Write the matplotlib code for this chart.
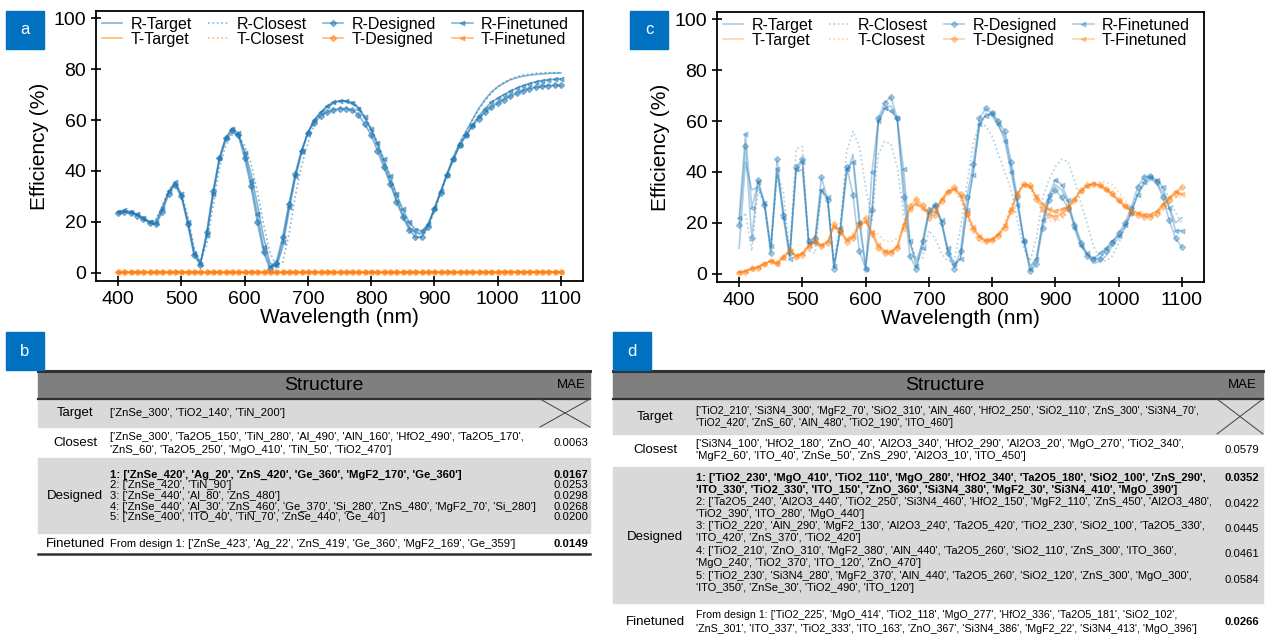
import matplotlib
matplotlib.use('Agg')
import matplotlib.pyplot as plt
from matplotlib.patches import Rectangle
import numpy as np

plt.rcParams['font.family'] = ['Liberation Sans', 'DejaVu Sans']

# ---------------- spectra (10 nm grid) ----------------
wl = np.arange(400, 1101, 10)

# panel a
Ra_target = [23.8, 24, 24, 23, 21.5, 20, 20.5, 26, 32, 35, 30,
             21, 9, 4, 14, 30, 44, 52, 55, 54, 48,
             39, 27, 14, 4, 2, 10, 24, 37, 47, 55,
             60, 63, 65, 66.5, 67.5, 67.5, 67, 65, 61, 56,
             50, 43, 36, 29, 23, 18, 15.5, 15.5, 19, 25,
             32, 39, 45.5, 51, 55.5, 60, 64.5, 68, 71, 73,
             74.5, 75.8, 76.6, 77.2, 77.6, 77.9, 78.1, 78.3, 78.4, 78.5]
Ra_closest = [23.5, 23.5, 23.5, 22.5, 21, 20, 21, 26.5, 32.5, 35.5, 31,
              22.5, 10, 4.5, 11, 26, 41, 50, 54, 54, 50,
              43, 32, 19, 8, 3, 4, 15, 30, 42, 51,
              58, 62, 65, 66.5, 67.5, 67.5, 67, 65, 61.5, 57,
              51, 44.5, 37.5, 30.5, 24, 19, 16, 15, 18, 24,
              31, 38.5, 45, 51, 55.5, 60, 64, 67.5, 70.5, 73,
              74.8, 76, 77, 77.6, 78, 78.3, 78.5, 78.6, 78.6, 78.6]
Ra_designed = [23.5, 24, 23.5, 22.5, 21, 19.5, 19, 24, 31, 34.5, 30,
               19, 7, 3, 16, 32, 45, 53, 56, 54, 45,
               34, 20, 8, 1.5, 4, 14, 27, 39, 48, 55,
               59, 61.5, 63, 64, 64.5, 64.5, 64, 62, 58.5, 54,
               48, 41.5, 35, 28, 22, 17, 14, 14, 18, 25,
               31.5, 38.5, 44.5, 50, 54, 57.5, 60.5, 63, 65, 66.5,
               68, 69.3, 70.5, 71.5, 72.3, 72.8, 73.2, 73.5, 73.6, 73.6]
Ra_finetuned = [24, 24.5, 24, 23, 21.5, 20, 19.5, 25, 32, 35.5, 31,
                20, 7.5, 3.5, 15, 31, 45, 53, 56.5, 55, 47,
                36, 23, 10, 2.5, 3, 12, 26, 38, 48, 55,
                60, 63, 65.5, 67, 67.5, 67.5, 66.5, 64.5, 61, 56.5,
                51, 44.5, 38, 31, 25, 20, 17, 16.5, 19, 25.5,
                32, 38.5, 44.5, 50, 54, 58, 61.5, 64.5, 67, 68.5,
                70, 71.2, 72.5, 73.5, 74.3, 75, 75.5, 75.8, 76, 76.2]
Ta_all = [0.2, 0.2, 0.2, 0.2, 0.2, 0.2, 0.2, 0.2, 0.2, 0.2, 0.2,
          0.2, 0.2, 0.2, 0.2, 0.2, 0.2, 0.2, 0.2, 0.2, 0.2,
          0.2, 0.2, 0.2, 0.2, 0.2, 0.2, 0.2, 0.2, 0.2, 0.2,
          0.2, 0.2, 0.2, 0.2, 0.2, 0.2, 0.2, 0.2, 0.2, 0.2,
          0.2, 0.2, 0.2, 0.2, 0.2, 0.2, 0.2, 0.2, 0.2, 0.2,
          0.2, 0.2, 0.2, 0.2, 0.2, 0.2, 0.2, 0.2, 0.2, 0.2,
          0.3, 0.3, 0.3, 0.3, 0.3, 0.3, 0.3, 0.3, 0.3, 0.3]

# panel c
Rc_target = [10, 44, 33, 34, 28, 9, 40, 25, 7, 40, 41,
             12, 13, 33, 29, 3, 17, 39, 47, 22, 3,
             23, 59, 65, 66, 60, 35, 12, 5, 12, 24,
             26, 20, 9, 3, 6, 25, 40, 58, 63, 62,
             58, 54, 42, 28, 14, 3, 6, 20, 30, 35,
             33, 28, 20, 13, 8, 4, 5, 7, 11, 14,
             18, 24, 31, 35, 37, 36, 32, 26, 20, 22]
Rc_closest = [20, 24, 9, 33, 27, 10, 39, 32, 8, 49, 50,
              9, 8, 33, 28, 5, 20, 48, 56, 50, 34,
              21, 47, 52, 51, 42, 23, 13, 6, 6, 17,
              14, 8, 5, 5, 18, 35, 51, 59, 58, 54,
              47, 40, 33, 21, 10, 5, 14, 30, 37, 42,
              45, 44, 37, 28, 20, 11, 6, 5, 7, 12,
              18, 25, 32, 37, 38, 37, 34, 30, 24, 20]
Rc_designed = [19, 50, 14, 37, 27, 8, 45, 23, 8, 42, 45,
               13, 14, 38, 29, 2, 17, 42, 31, 9, 2,
               25, 61, 67, 69.5, 61, 30, 7, 2, 13, 25,
               27, 20, 8, 2, 9, 30, 43, 61, 65, 63,
               60, 56, 44, 30, 13, 1, 4, 18, 29, 33,
               30, 26, 19, 12, 7, 6, 6, 9, 12, 16,
               20, 26, 34, 38, 38.5, 36, 30, 21, 14, 10.5]
Rc_finetuned = [22, 55, 26, 36, 28, 11, 41, 22, 6, 41, 44,
                12, 12, 33, 30, 3, 18, 41, 44, 20, 2,
                40, 60, 65, 64, 61, 41, 13, 3, 10, 24,
                27, 21, 10, 4, 6, 25, 39, 59, 62, 63,
                59, 52, 40, 27, 13, 2, 6, 21, 31, 37,
                35, 29, 18, 11, 8, 6, 8, 10, 13, 15,
                19, 24, 31, 36, 38, 37, 34, 26, 17, 17]
Tc_target = [0.6, 0.9, 2, 2.6, 3.9, 5, 4, 6.5, 9, 7, 8,
             11, 13, 11, 12.5, 19, 17, 13, 14.5, 19, 21,
             16, 11, 9, 8.5, 10.5, 19, 26, 28, 26, 24,
             24, 29, 32, 33, 31, 24, 18, 14.5, 13, 13.5,
             15.5, 18.5, 25, 31.5, 35, 34.5, 30, 27, 25, 24,
             25, 26, 29, 32.5, 34.5, 35.5, 35, 33.5, 31.5, 29,
             27, 25, 24, 23.5, 23.5, 24.5, 27, 29.5, 32, 31]
Tc_closest = [0.8, 1.2, 2.5, 3, 4.2, 5.3, 4.5, 6.8, 9, 7.5, 8.5,
              11.5, 12.5, 11, 13, 18, 16, 14, 16, 20, 20,
              17, 15.5, 13, 12.5, 14, 18, 24, 27, 27, 26,
              26, 29, 32, 32.5, 29, 22, 16, 12.5, 12, 13,
              15.5, 20, 27, 32.5, 35.5, 33.5, 29, 24, 21, 20.5,
              21.5, 24, 28, 31.5, 34, 35.5, 36, 36, 35, 32,
              29, 26, 24, 23, 22.5, 23, 25, 27.5, 30, 30]
Tc_designed = [0.5, 0.8, 2.2, 2.4, 3.7, 5.2, 4.2, 6.8, 9.5, 6.8, 7.5,
               10.5, 13.5, 10.8, 12, 19.5, 16.5, 12.5, 14, 20, 22,
               15.5, 10, 8.2, 8, 10.2, 18, 26.5, 29.5, 27, 22,
               23, 28.5, 32, 34, 31.5, 23.5, 17.5, 14, 12.8, 13.2,
               15, 18, 24.5, 31, 35.4, 34.8, 29.5, 25.5, 23, 22.5,
               23.5, 25.5, 29, 32.8, 34.8, 35.4, 34.8, 33.5, 31.6, 28.9,
               26.5, 24, 23, 22.5, 22.5, 23.5, 26.5, 29, 31.5, 34]
Tc_finetuned = [0.7, 1.0, 1.9, 2.8, 4.0, 5.0, 3.9, 6.3, 8.8, 7.2, 8.1,
                11.2, 12.6, 11.3, 12.8, 18.5, 17.2, 13.5, 15, 18.8, 20.5,
                16.5, 11.5, 9, 8.8, 11, 19.5, 25.5, 27.5, 25.5, 24.5,
                24.5, 29.5, 32.5, 33.5, 30.5, 24, 18.5, 15, 13.2, 13.8,
                15.8, 19, 25.5, 31.8, 34.8, 34.2, 30.5, 27.5, 25.5, 24.8,
                25.5, 26.5, 29.5, 32.5, 34.6, 35.2, 34.6, 33, 31, 28.5,
                26.5, 24.5, 23.8, 23.2, 23.2, 24.5, 27.5, 30, 32.5, 31.5]

# ---------------- tables ----------------
b_target = ["['ZnSe_300', 'TiO2_140', 'TiN_200']"]
b_closest = ["['ZnSe_300', 'Ta2O5_150', 'TiN_280', 'Al_490', 'AlN_160', 'HfO2_490', 'Ta2O5_170',",
             "'ZnS_60', 'Ta2O5_250', 'MgO_410', 'TiN_50', 'TiO2_470']"]
b_designed = [["1: ['ZnSe_420', 'Ag_20', 'ZnS_420', 'Ge_360', 'MgF2_170', 'Ge_360']"],
              ["2: ['ZnSe_420', 'TiN_90']"],
              ["3: ['ZnSe_440', 'Al_80', 'ZnS_480']"],
              ["4: ['ZnSe_440', 'Al_30', 'ZnS_460', 'Ge_370', 'Si_280', 'ZnS_480', 'MgF2_70', 'Si_280']"],
              ["5: ['ZnSe_400', 'ITO_40', 'TiN_70', 'ZnSe_440', 'Ge_40']"]]
b_finetuned = ["From design 1: ['ZnSe_423', 'Ag_22', 'ZnS_419', 'Ge_360', 'MgF2_169', 'Ge_359']"]
b_mae_closest = '0.0063'
b_mae_designed = ['0.0167', '0.0253', '0.0298', '0.0268', '0.0200']
b_mae_finetuned = '0.0149'

d_target = ["['TiO2_210', 'Si3N4_300', 'MgF2_70', 'SiO2_310', 'AlN_460', 'HfO2_250', 'SiO2_110', 'ZnS_300', 'Si3N4_70',",
            "'TiO2_420', 'ZnS_60', 'AlN_480', 'TiO2_190', 'ITO_460']"]
d_closest = ["['Si3N4_100', 'HfO2_180', 'ZnO_40', 'Al2O3_340', 'HfO2_290', 'Al2O3_20', 'MgO_270', 'TiO2_340',",
             "'MgF2_60', 'ITO_40', 'ZnSe_50', 'ZnS_290', 'Al2O3_10', 'ITO_450']"]
d_designed = [["1: ['TiO2_230', 'MgO_410', 'TiO2_110', 'MgO_280', 'HfO2_340', 'Ta2O5_180', 'SiO2_100', 'ZnS_290',",
               "'ITO_330', 'TiO2_330', 'ITO_150', 'ZnO_360', 'Si3N4_380', 'MgF2_30', 'Si3N4_410', 'MgO_390']"],
              ["2: ['Ta2O5_240', 'Al2O3_440', 'TiO2_250', 'Si3N4_460', 'HfO2_150', 'MgF2_110', 'ZnS_450', 'Al2O3_480',",
               "'TiO2_390', 'ITO_280', 'MgO_440']"],
              ["3: ['TiO2_220', 'AlN_290', 'MgF2_130', 'Al2O3_240', 'Ta2O5_420', 'TiO2_230', 'SiO2_100', 'Ta2O5_330',",
               "'ITO_420', 'ZnS_370', 'TiO2_420']"],
              ["4: ['TiO2_210', 'ZnO_310', 'MgF2_380', 'AlN_440', 'Ta2O5_260', 'SiO2_110', 'ZnS_300', 'ITO_360',",
               "'MgO_240', 'TiO2_370', 'ITO_120', 'ZnO_470']"],
              ["5: ['TiO2_230', 'Si3N4_280', 'MgF2_370', 'AlN_440', 'Ta2O5_260', 'SiO2_120', 'ZnS_300', 'MgO_300',",
               "'ITO_350', 'ZnSe_30', 'TiO2_490', 'ITO_120']"]]
d_finetuned = ["From design 1: ['TiO2_225', 'MgO_414', 'TiO2_118', 'MgO_277', 'HfO2_336', 'Ta2O5_181', 'SiO2_102',",
               "'ZnS_301', 'ITO_337', 'TiO2_333', 'ITO_163', 'ZnO_367', 'Si3N4_386', 'MgF2_22', 'Si3N4_413', 'MgO_396']"]
d_mae_closest = '0.0579'
d_mae_designed = ['0.0352', '0.0422', '0.0445', '0.0461', '0.0584']
d_mae_finetuned = '0.0266'

BLUE = '#1f77b4'
ORANGE = '#ff7f0e'
W, H = 1268, 635

fig = plt.figure(figsize=(W / 100, H / 100), dpi=100)

# overlay in pixel coordinates for tables / panel tags
ov = fig.add_axes([0, 0, 1, 1])
ov.set_xlim(0, W)
ov.set_ylim(H, 0)
ov.axis('off')


def spectrum_axes(left_px, top_px, R, T, alpha):
    ax = fig.add_axes([left_px / W, 1 - (top_px + 270) / H, 487 / W, 270 / H])
    styles = [('Target', dict(ls='-')),
              ('Closest', dict(ls=':')),
              ('Designed', dict(ls='-', marker='D', ms=3.2, mew=0.8)),
              ('Finetuned', dict(ls='-', marker='<', ms=3.4, mew=0.8))]
    for (name, st), r, t in zip(styles, R, T):
        ax.plot(wl, r, color=BLUE, lw=1.2, alpha=alpha, label='R-' + name, **st)
        ax.plot(wl, t, color=ORANGE, lw=1.2, alpha=alpha, label='T-' + name, **st)
    ax.set_xlim(365, 1135)
    ax.set_ylim(-3.2, 102.8)
    ax.set_xticks(range(400, 1101, 100))
    ax.set_yticks(range(0, 101, 20))
    ax.tick_params(direction='inout', length=7, width=1.2, labelsize=14)
    for s in ax.spines.values():
        s.set_linewidth(1.3)
    ax.set_xlabel('Wavelength (nm)', fontsize=15, labelpad=0)
    ax.set_ylabel('Efficiency (%)', fontsize=15, labelpad=3)
    ax.legend(ncol=4, loc='upper left', frameon=False, fontsize=11.5,
              handlelength=1.3, handletextpad=0.5, columnspacing=1.0,
              labelspacing=0.0, borderaxespad=0.25, borderpad=0.1)
    return ax


spectrum_axes(96, 11, [Ra_target, Ra_closest, Ra_designed, Ra_finetuned],
              [Ta_all, Ta_all, Ta_all, Ta_all], 0.55)
spectrum_axes(717, 12, [Rc_target, Rc_closest, Rc_designed, Rc_finetuned],
              [Tc_target, Tc_closest, Tc_designed, Tc_finetuned], 0.36)


def tag(x, y, letter):
    ov.add_patch(Rectangle((x, y), 38, 38, color='#0070c0', zorder=3))
    ov.text(x + 19, y + 19, letter, color='white', fontsize=12,
            ha='center', va='center', zorder=4)


tag(6, 11, 'a')
tag(630, 11, 'c')
tag(6, 332, 'b')
tag(613, 332, 'd')

GRAY = '#d9d9d9'


def table(x0, x1, mae_x0, mae_cx, label_x, text_x, head_x, rows, bottom):
    # rows: (name, y_top, y_bot, fill, label_y, lines, mae_items, text_size)
    ov.add_patch(Rectangle((x0, 371), x1 - x0, 28, color='#7f7f7f', zorder=1))
    ov.plot([x0, x1], [371, 371], color='#303030', lw=2.2, zorder=2)
    ov.plot([x0, x1], [399, 399], color='#303030', lw=1.6, zorder=2)
    ov.text(head_x, 385, 'Structure', fontsize=14, ha='center', va='center')
    ov.text(mae_cx, 385, 'MAE', fontsize=9.5, ha='center', va='center')
    for name, yt, yb, fill, ly, lines, maes, ts in rows:
        if fill:
            ov.add_patch(Rectangle((x0, yt), x1 - x0, yb - yt, color=fill, zorder=1))
        ov.text(label_x, ly, name, fontsize=9.5, ha='center', va='center')
        for y, s, bold in lines:
            ov.text(text_x, y, s, fontsize=ts, ha='left', va='center',
                    fontweight='bold' if bold else 'normal')
        for y, s, bold in maes:
            ov.text(mae_cx, y, s, fontsize=8.1, ha='center', va='center',
                    fontweight='bold' if bold else 'normal')
    if bottom is not None:
        ov.plot([x0, x1], [bottom, bottom], color='#303030', lw=1.8, zorder=2)
    # crossed-out MAE cell for the target row
    yt, yb = rows[0][1], rows[0][2]
    ov.plot([mae_x0, x1], [yt, yb], color='#404040', lw=0.7)
    ov.plot([mae_x0, x1], [yb, yt], color='#404040', lw=0.7)


# table b
b_des_y = [475, 485.5, 496, 506.5, 517]
b_rows = [
    ('Target', 399, 427, GRAY, 413, [(413, b_target[0], False)], [], 8.1),
    ('Closest', 427, 458, None, 443,
     [(437, b_closest[0], False), (450, b_closest[1], False)],
     [(443, b_mae_closest, False)], 8.1),
    ('Designed', 458, 533, GRAY, 496,
     [(y, d[0], i == 0) for i, (y, d) in enumerate(zip(b_des_y, b_designed))],
     [(y, m, i == 0) for i, (y, m) in enumerate(zip(b_des_y, b_mae_designed))], 8.1),
    ('Finetuned', 533, 554, None, 544, [(544, b_finetuned[0], False)],
     [(544, b_mae_finetuned, True)], 8.1),
]
table(38, 590, 540, 571, 75, 110, 324, b_rows, 554)

# table d
d_des_y = [478, 502, 526, 551, 576]
d_mae_y = [478, 504, 529, 554, 580]
d_des_lines = []
for i, (y, d) in enumerate(zip(d_des_y, d_designed)):
    d_des_lines.append((y, d[0], i == 0))
    d_des_lines.append((y + 12, d[1], i == 0))
d_rows = [
    ('Target', 399, 434, GRAY, 417,
     [(411, d_target[0], False), (423, d_target[1], False)], [], 7.55),
    ('Closest', 434, 467, None, 450,
     [(444, d_closest[0], False), (456, d_closest[1], False)],
     [(450, d_mae_closest, False)], 8.1),
    ('Designed', 467, 603, GRAY, 537, d_des_lines,
     [(y, m, i == 0) for i, (y, m) in enumerate(zip(d_mae_y, d_mae_designed))], 8.0),
    ('Finetuned', 603, 640, None, 622,
     [(615, d_finetuned[0], False), (629, d_finetuned[1], False)],
     [(622, d_mae_finetuned, True)], 7.7),
]
table(613, 1263, 1217, 1242, 655, 696, 945, d_rows, None)

fig.savefig('out.png', dpi=100)
